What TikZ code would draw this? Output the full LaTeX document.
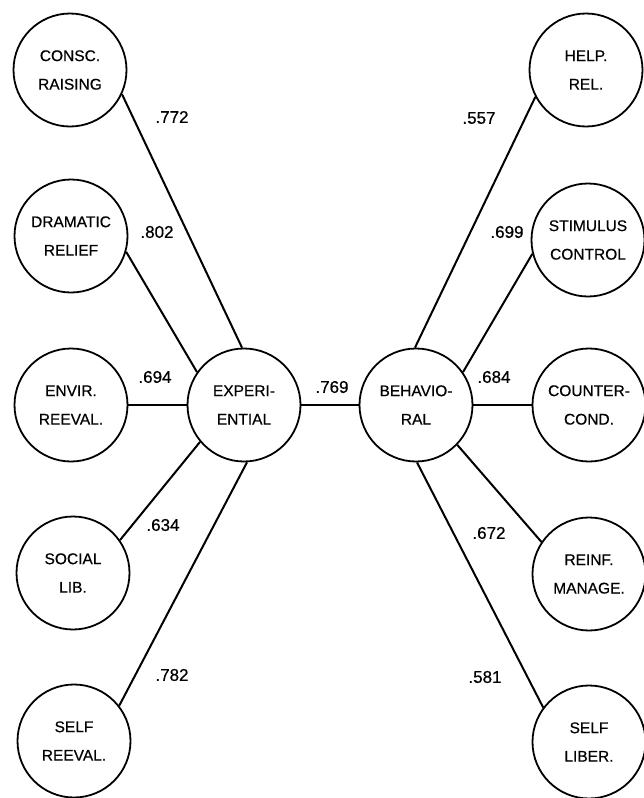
\documentclass[tikz,border=0pt]{standalone}
\usepackage{fontspec}
\setmainfont{Liberation Sans}
\newfontfamily\hvfont[FakeBold=0.5]{Liberation Sans}
\begin{document}
\begin{tikzpicture}[x=1pt,y=-1pt,
  fac/.style={circle,draw,line width=1.8pt,minimum size=113pt,inner sep=0pt,align=center,font=\hvfont\fontsize{15.5}{28.5}\selectfont},
  lbl/.style={font=\hvfont\fontsize{17}{19}\selectfont,inner sep=0pt},
  conn/.style={line width=2pt}]
\useasboundingbox (0,0) rectangle (644,798);
% left column
\node[fac] (consc) at (70,70) {CONSC.\\RAISING};
\node[fac] (dram) at (71,236) {DRAMATIC\\RELIEF};
\node[fac] (envir) at (71,405) {ENVIR.\\REEVAL.};
\node[fac] (social) at (73,573) {SOCIAL\\LIB.};
\node[fac] (selfre) at (74,741) {SELF\\REEVAL.};
% centre
\node[fac] (exp) at (244,405) {EXPERI-\\ENTIAL};
\node[fac] (beh) at (416,405) {BEHAVIO-\\RAL};
% right column
\node[fac] (help) at (586,70) {HELP.\\REL.};
\node[fac] (stim) at (588,240) {STIMULUS\\CONTROL};
\node[fac] (counter) at (589,405) {COUNTER-\\COND.};
\node[fac] (reinf) at (589,574) {REINF.\\MANAGE.};
\node[fac] (selflib) at (589,742) {SELF\\LIBER.};
% connectors
\draw[conn] (consc.-25) -- (exp.92);
\draw[conn] (dram.-16) -- (exp.145);
\draw[conn] (envir.east) -- (exp.west);
\draw[conn] (social.35) -- (exp.-140);
\draw[conn] (selfre.38) -- (exp.-87);
\draw[conn] (exp.east) -- (beh.west);
\draw[conn] (help.-152) -- (beh.91);
\draw[conn] (stim.-166) -- (beh.35);
\draw[conn] (counter.west) -- (beh.east);
\draw[conn] (reinf.146) -- (beh.-44);
\draw[conn] (selflib.143) -- (beh.-89);
% labels
\node[lbl] (l772) at (172,117) {.772};
\node[lbl] (l802) at (157,232) {.802};
\node[lbl] (l694) at (155,377) {.694};
\node[lbl] (l634) at (163,525) {.634};
\node[lbl] (l782) at (172,675) {.782};
\node[lbl] (l769) at (332,387) {.769};
\node[lbl] (l557) at (479,118) {.557};
\node[lbl] (l699) at (507,232) {.699};
\node[lbl] (l684) at (494,377) {.684};
\node[lbl] (l672) at (489,533) {.672};
\node[lbl] (l581) at (485,677) {.581};
\end{tikzpicture}
\end{document}
